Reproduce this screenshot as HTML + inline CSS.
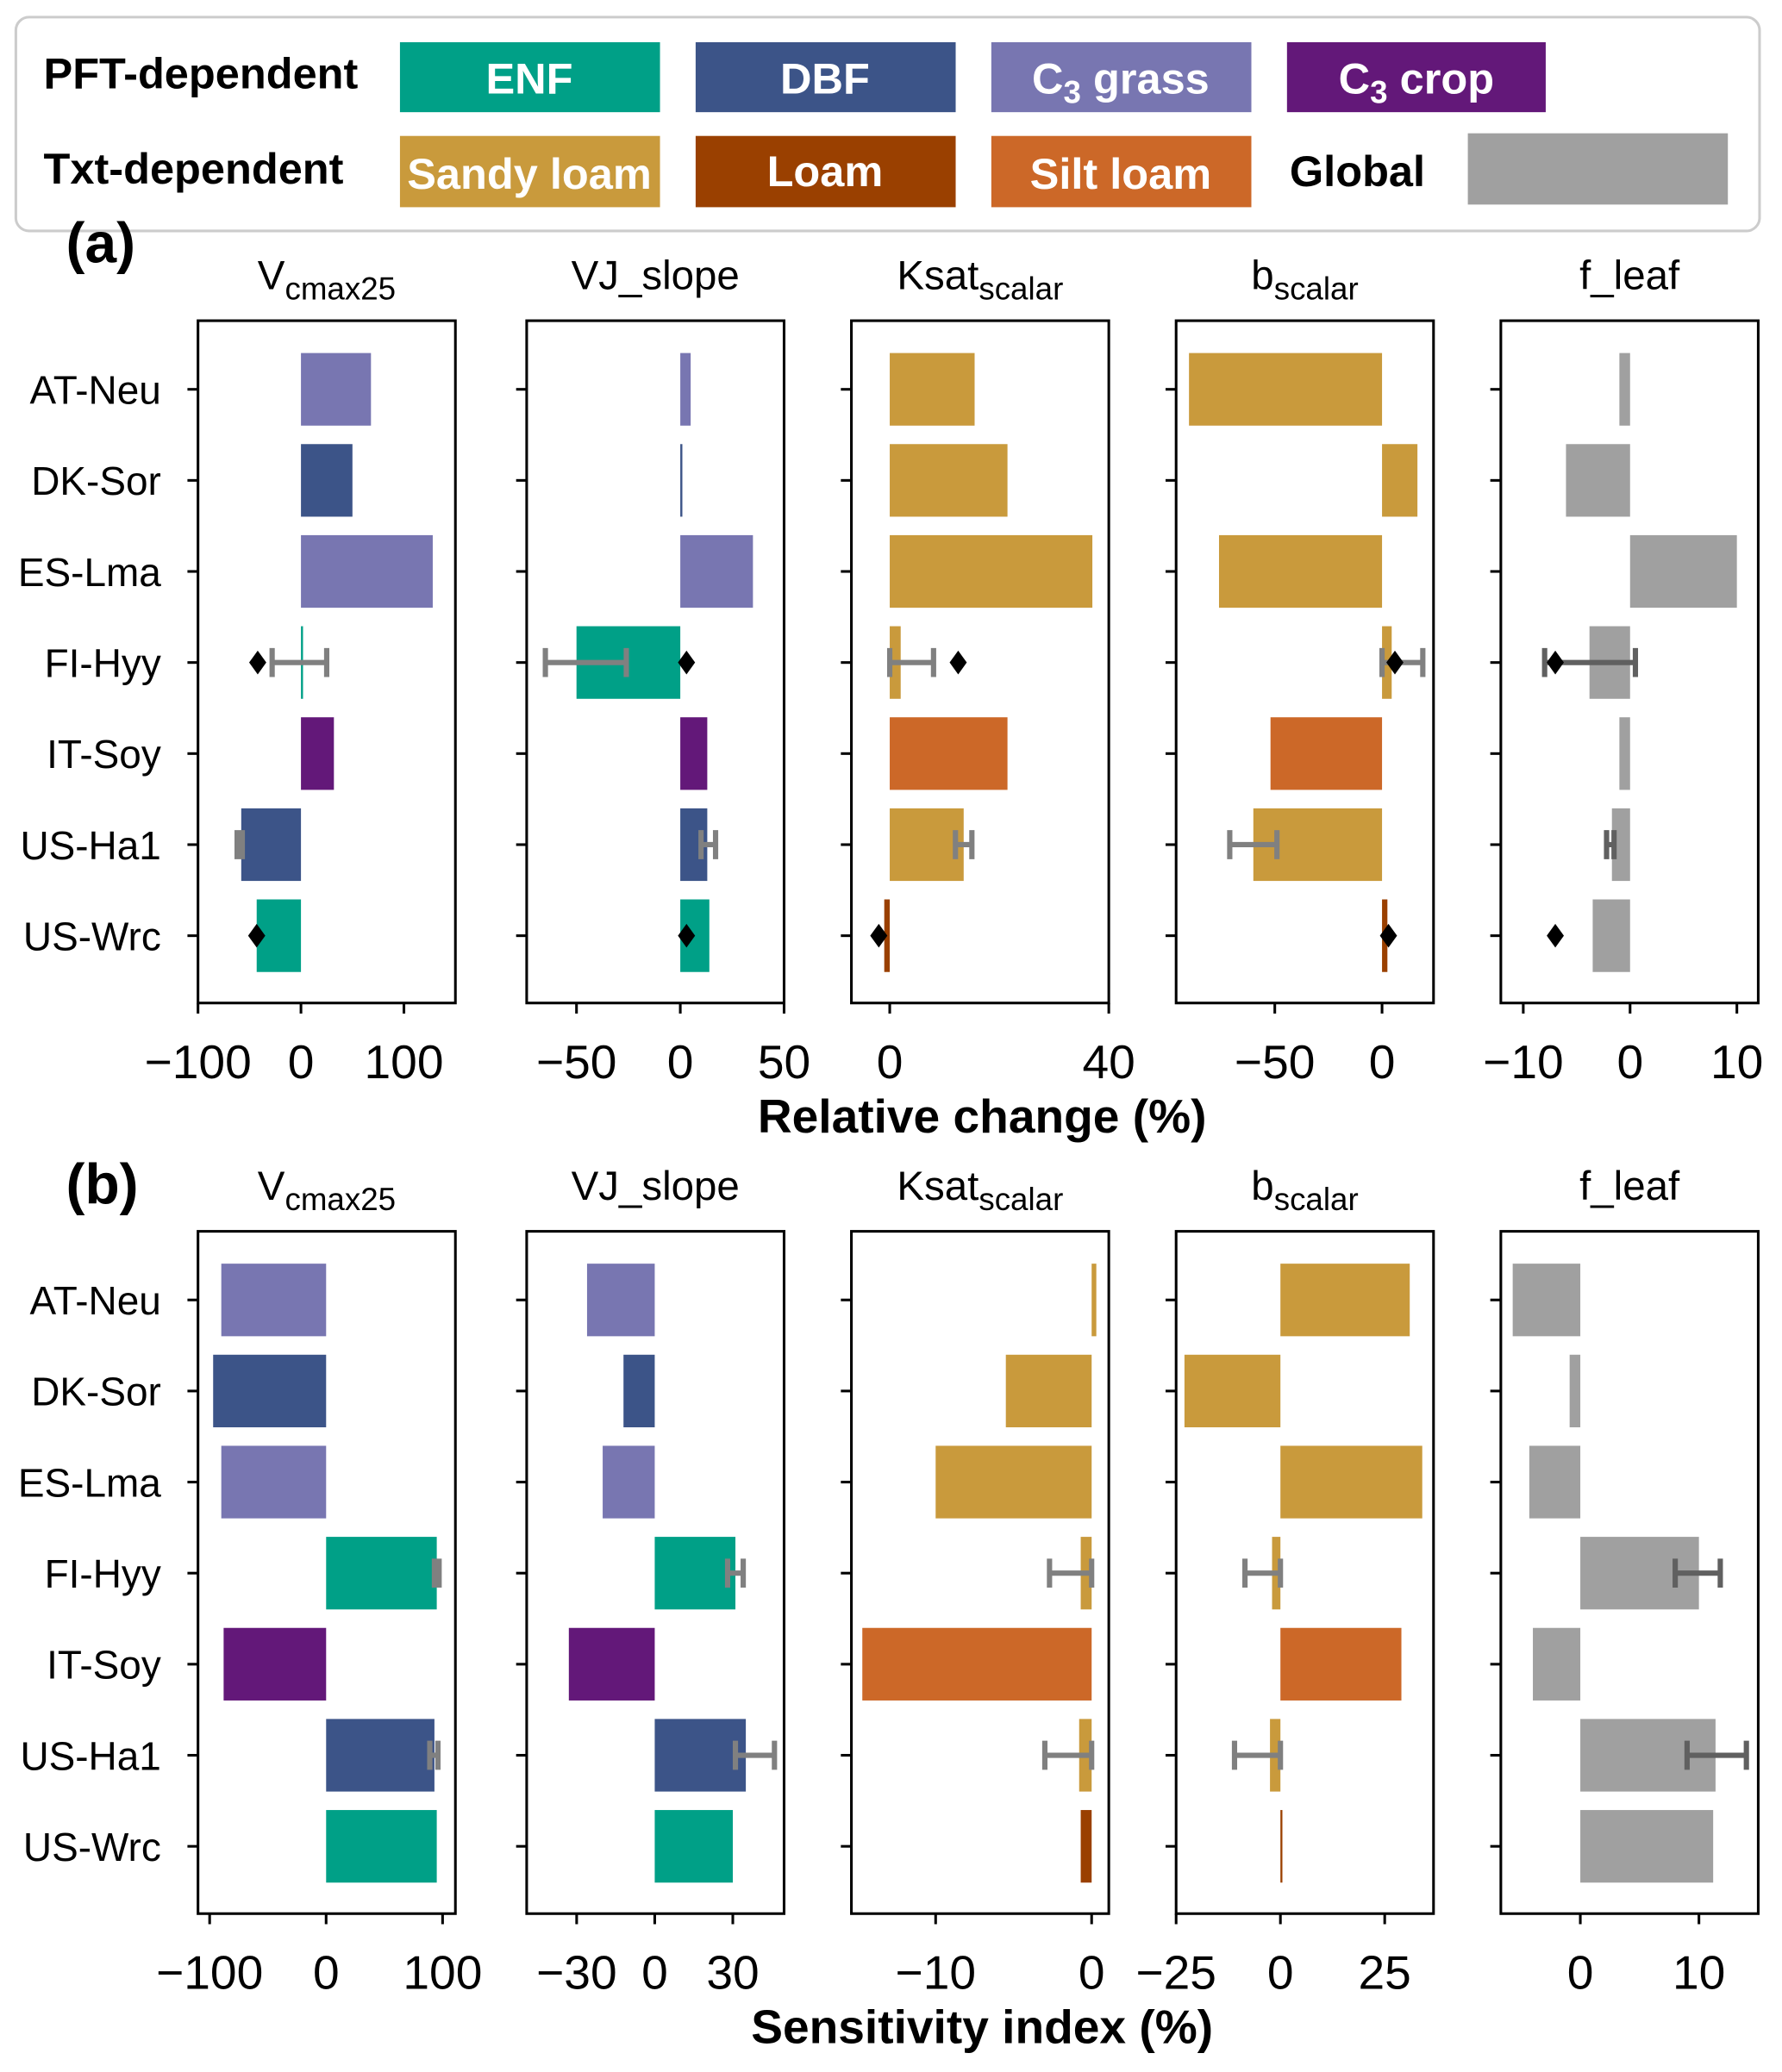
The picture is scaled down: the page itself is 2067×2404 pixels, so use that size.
<!DOCTYPE html>
<html><head><meta charset="utf-8"><style>
html,body{margin:0;padding:0;background:#fff;}
svg{display:block;font-family:"Liberation Sans","DejaVu Sans",sans-serif;}
</style></head><body>
<svg id="fig" width="2067" height="2404" viewBox="0 0 1350 1570" preserveAspectRatio="none" xmlns="http://www.w3.org/2000/svg">
<g>
<rect x="12" y="13" width="1321" height="162" rx="10" fill="#fff" stroke="#ccc" stroke-width="2"/>
<text x="33" y="67" font-size="33" font-weight="bold">PFT-dependent</text>
<text x="33" y="139" font-size="33" font-weight="bold">Txt-dependent</text>
<g><rect x="303" y="32" width="197" height="53" fill="#00a087"/><text x="401" y="71" font-size="33" font-weight="bold" fill="#fff" text-anchor="middle">ENF</text></g>
<g><rect x="527" y="32" width="197" height="53" fill="#3c5488"/><text x="625" y="71" font-size="33" font-weight="bold" fill="#fff" text-anchor="middle">DBF</text></g>
<g><rect x="751" y="32" width="197" height="53" fill="#7876b1"/><text x="849" y="71" font-size="33" font-weight="bold" fill="#fff" text-anchor="middle">C<tspan font-size="24" dy="7">3</tspan><tspan dy="-7"> grass</tspan></text></g>
<g><rect x="975" y="32" width="196" height="53" fill="#631879"/><text x="1073" y="71" font-size="33" font-weight="bold" fill="#fff" text-anchor="middle">C<tspan font-size="24" dy="7">3</tspan><tspan dy="-7"> crop</tspan></text></g>
<g><rect x="303" y="103" width="197" height="54" fill="#c99a3c"/><text x="401" y="143" font-size="33" font-weight="bold" fill="#fff" text-anchor="middle">Sandy loam</text></g>
<g><rect x="527" y="103" width="197" height="54" fill="#9a4000"/><text x="625" y="141" font-size="33" font-weight="bold" fill="#fff" text-anchor="middle">Loam</text></g>
<g><rect x="751" y="103" width="197" height="54" fill="#cc6828"/><text x="849" y="143" font-size="33" font-weight="bold" fill="#fff" text-anchor="middle">Silt loam</text></g>
<g><text x="977" y="141" font-size="33" font-weight="bold">Global</text><rect x="1112" y="101" width="197" height="54" fill="#a0a0a0"/></g>
</g>
<text x="50" y="199" font-size="43" font-weight="bold">(a)</text>
<text x="50" y="912" font-size="43" font-weight="bold">(b)</text>
<text x="744" y="858" font-size="36" font-weight="bold" text-anchor="middle">Relative change (%)</text>
<text x="744" y="1548" font-size="36" font-weight="bold" text-anchor="middle">Sensitivity index (%)</text>
</svg>
<script>
const sites = ["AT-Neu","DK-Sor","ES-Lma","FI-Hyy","IT-Soy","US-Ha1","US-Wrc"];
const colorMap = {enf:"#00a087",dbf:"#3c5488",grass:"#7876b1",crop:"#631879",sandy:"#c99a3c",loam:"#9a4000",silt:"#cc6828",global:"#a0a0a0"};
const pftColors = ["grass","dbf","grass","enf","crop","dbf","enf"];
const txtColors = ["sandy","sandy","sandy","sandy","silt","sandy","loam"];
const globColors = ["global","global","global","global","global","global","global"];
const paramTitles = [["V","cmax25"],["VJ_slope",""],["Ksat","scalar"],["b","scalar"],["f_leaf",""]];
// Panel (a) relative change
const aDomains = [[-100,150],[-74,50],[-7,40],[-96,24],[-12.1,12]];
const aTicks = [[-100,0,100],[-50,0,50],[0,40],[-50,0],[-10,0,10]];
const aVcmax = [68,50,128,2,32,-58,-43];
const aVJ = [5,1,35,-50,13,13,14];
const aKsat = [15.5,21.5,37,2,21.5,13.5,-1];
const aB = [-90,16.5,-76,4.5,-52,-60,2.5];
const aFleaf = [-1,-6,10,-3.8,-1,-1.7,-3.5];
const aErrLo = [[null,null,null,-28,null,-62,null],[null,null,null,-65,null,10,null],[null,null,null,0,null,12,null],[null,null,null,0,null,-71,null],[null,null,null,-8,null,-2.2,null]];
const aErrHi = [[null,null,null,25,null,-57,null],[null,null,null,-26,null,17,null],[null,null,null,8,null,15,null],[null,null,null,19,null,-49,null],[null,null,null,0.5,null,-1.5,null]];
const aDiamond = [[null,null,null,-42,null,null,-43],[null,null,null,3,null,null,3],[null,null,null,12.5,null,null,-2],[null,null,null,6,null,null,3],[null,null,null,-7,null,null,-7]];
// Panel (b) sensitivity index
const bDomains = [[-110,111],[-49.2,49.7],[-15.4,1.1],[-25,36.7],[-6.7,15]];
const bTicks = [[-100,0,100],[-30,0,30],[-10,0],[-25,0,25],[0,10]];
const bVcmax = [-90,-97,-90,95,-88,93,95];
const bVJ = [-26,-12,-20,31,-33,35,30];
const bKsat = [0.3,-5.5,-10,-0.7,-14.7,-0.8,-0.7];
const bB = [31,-23,34,-2,29,-2.5,0.3];
const bFleaf = [-5.7,-0.9,-4.3,10,-4,11.4,11.2];
const bErrLo = [[null,null,null,93,null,89,null],[null,null,null,28,null,31,null],[null,null,null,-2.7,null,-3,null],[null,null,null,-8.5,null,-11,null],[null,null,null,8,null,9,null]];
const bErrHi = [[null,null,null,97,null,96,null],[null,null,null,34,null,46,null],[null,null,null,0,null,0,null],[null,null,null,0,null,0,null],[null,null,null,11.8,null,14,null]];

const NS="http://www.w3.org/2000/svg";
const svg=document.getElementById('fig');
const panelX=[[150,345],[399,594],[645,840],[891,1086],[1137,1332]];
function mk(tag,attrs,parent){const e=document.createElementNS(NS,tag);for(const k in attrs)e.setAttribute(k,attrs[k]);parent.appendChild(e);return e;}
function drawPanel(tag,top,domains,ticks,series,errLo,errHi,diam){
  const bottom=top+517;
  const colorSets=[pftColors,pftColors,txtColors,txtColors,globColors];
  for(let p=0;p<5;p++){
    const [x0,x1]=panelX[p];const [d0,d1]=domains[p];
    const sx=v=>x0+(v-d0)/(d1-d0)*(x1-x0);
    const sy=i=>top+52+i*69;
    const g=mk('g',{},svg);
    
    
    const t=mk('text',{x:(x0+x1)/2,y:top-24,'font-size':31,'text-anchor':'middle'},g);
    
    
    t.textContent=paramTitles[p][0];
    if(paramTitles[p][1]){const ts=mk('tspan',{'font-size':24,dy:8},t);ts.textContent=paramTitles[p][1];}
    for(let i=0;i<7;i++){
      const v=series[p][i];const a=sx(0),b=sx(v);
      const r=mk('rect',{x:Math.min(a,b),y:sy(i)-27.5,width:Math.max(Math.abs(b-a),1.5),height:55,fill:colorMap[colorSets[p][i]]},g);
      
      
      mk('line',{x1:x0-8,x2:x0,y1:sy(i),y2:sy(i),stroke:'#000','stroke-width':2},g);
      if(p===0){const l=mk('text',{x:x0-28,y:sy(i)+11,'font-size':30,'text-anchor':'end'},g);
        
        
        l.textContent=sites[i];}
      if(errLo[p][i]!==null){
        const ec=p===4?'#606060':'#808080';
        const e=mk('g',{stroke:ec,'stroke-width':4,fill:'none'},g);
        
        
        const ea=sx(errLo[p][i]),eb=sx(errHi[p][i]);
        mk('line',{x1:ea,x2:eb,y1:sy(i),y2:sy(i)},e);
        mk('line',{x1:ea,x2:ea,y1:sy(i)-11,y2:sy(i)+11},e);
        mk('line',{x1:eb,x2:eb,y1:sy(i)-11,y2:sy(i)+11},e);
      }
      if(diam&&diam[p][i]!==null){
        const cx=sx(diam[p][i]),cy=sy(i);
        const d=mk('polygon',{points:`${cx},${cy-9} ${cx+6.5},${cy} ${cx},${cy+9} ${cx-6.5},${cy}`,fill:'#000'},g);
        
        
      }
    }
    mk('rect',{x:x0,y:top,width:x1-x0,height:517,fill:'none',stroke:'#000','stroke-width':2},g);
    ticks[p].forEach(tv=>{const tx=sx(tv);
      mk('line',{x1:tx,x2:tx,y1:bottom,y2:bottom+8,stroke:'#000','stroke-width':2},g);
      const tl=mk('text',{x:tx,y:bottom+57,'font-size':36,'text-anchor':'middle'},g);
      
      
      tl.textContent=tv<0?'\u2212'+Math.abs(tv):String(tv);});
  }
}
drawPanel('a',243,aDomains,aTicks,[aVcmax,aVJ,aKsat,aB,aFleaf],aErrLo,aErrHi,aDiamond);
drawPanel('b',933,bDomains,bTicks,[bVcmax,bVJ,bKsat,bB,bFleaf],bErrLo,bErrHi,null);
</script>
</body></html>
